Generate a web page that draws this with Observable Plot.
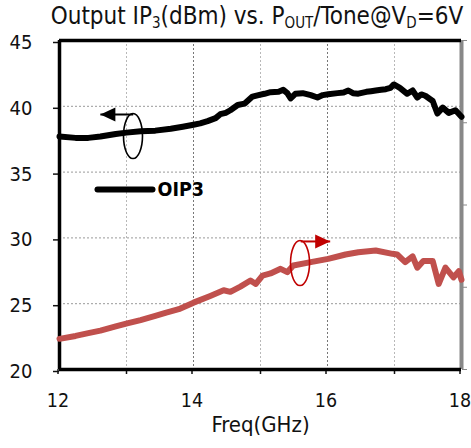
<!DOCTYPE html>
<html>
<head>
<meta charset="utf-8">
<script src="https://cdn.jsdelivr.net/npm/d3@7"></script>
<script src="https://cdn.jsdelivr.net/npm/@observablehq/plot@0.6"></script>
<style>
  html, body { margin: 0; padding: 0; background: #fff; overflow: hidden; }
  #wrap { position: relative; width: 471px; height: 448px; }
  #title { position: absolute; left: 0; top: 0; width: 514px; text-align: center;
    font-family: "DejaVu Sans", sans-serif; font-stretch: condensed; font-size: 24px;
    line-height: 32px; color: #111; white-space: nowrap; }
  #title sub { font-size: 15px; vertical-align: -4px; line-height: 0; }
</style>
</head>
<body>
<div id="wrap">
  <div id="title">Output IP<sub>3</sub>(dBm) vs. P<sub>OUT</sub>/Tone@V<sub>D</sub>=6V</div>
</div>
<script>
// OIP3 (dBm), left axis
const oip3Freq = [12.00,12.24,12.43,12.61,12.84,13.00,13.21,13.43,13.66,13.84,14.00,14.10,14.21,14.33,14.40,14.48,14.55,14.66,14.76,14.88,14.97,15.06,15.15,15.27,15.34,15.40,15.45,15.52,15.63,15.75,15.85,15.93,16.01,16.15,16.24,16.31,16.38,16.46,16.58,16.65,16.72,16.80,16.87,16.94,16.99,17.08,17.19,17.27,17.34,17.40,17.46,17.57,17.64,17.72,17.81,17.91,18.00];
const oip3 = [37.7,37.6,37.6,37.7,37.9,38.0,38.1,38.15,38.3,38.45,38.6,38.7,38.87,39.1,39.4,39.5,39.7,40.1,40.2,40.74,40.85,40.95,41.07,41.1,41.25,41.0,40.6,40.95,41.0,40.85,40.67,40.85,40.92,41.0,41.05,41.2,41.0,40.96,41.1,41.15,41.2,41.25,41.3,41.4,41.66,41.4,40.95,41.2,40.67,40.9,40.8,40.4,39.45,39.9,39.5,39.7,39.2];
// Pout/tone (right axis, read on the left-axis grid)
const poutFreq = [12.00,12.24,12.43,12.61,12.84,13.01,13.21,13.43,13.58,13.78,14.00,14.25,14.45,14.55,14.70,14.85,14.93,15.03,15.15,15.30,15.40,15.49,15.75,16.01,16.27,16.46,16.72,16.97,17.04,17.16,17.27,17.34,17.43,17.57,17.66,17.76,17.88,17.96,18.00];
const pout = [22.33,22.55,22.76,22.95,23.27,23.5,23.75,24.07,24.3,24.58,25.08,25.59,26.02,25.9,26.3,26.76,26.5,27.14,27.3,27.65,27.4,27.9,28.16,28.41,28.74,28.91,29.04,28.79,28.74,28.16,28.6,27.74,28.24,28.24,26.5,27.74,27.0,27.47,26.82];

const xMajorTicks = [12, 14, 16, 18];
const xMinorTicks = [13, 15, 17];
const yTicks = [20, 25, 30, 35, 40, 45];
const rightTicks = [20, 26.25, 32.5, 38.75, 45];

// annotations (data coordinates)
const leftMarker = { cx: 13.097, cy: 37.74, ax1: 13.10, ax2: 12.61, ay: 39.38 };
const rightMarker = { cx: 15.59, cy: 28.09, ax1: 15.60, ax2: 16.04, ay: 29.73 };
const legendEntry = { label: "OIP3", x1: 12.567, x2: 13.388, y: 33.68, tx: 13.463 };

const oipData = oip3Freq.map((f, i) => ({ f, v: oip3[i] }));
const poutData = poutFreq.map((f, i) => ({ f, v: pout[i] }));

const font = '"DejaVu Sans", sans-serif';

const ellipse = { draw(ctx) {
  const rx = 9.5, ry = 22.5, k = 0.5523;
  ctx.moveTo(rx, 0);
  ctx.bezierCurveTo(rx, ry * k, rx * k, ry, 0, ry);
  ctx.bezierCurveTo(-rx * k, ry, -rx, ry * k, -rx, 0);
  ctx.bezierCurveTo(-rx, -ry * k, -rx * k, -ry, 0, -ry);
  ctx.bezierCurveTo(rx * k, -ry, rx, -ry * k, rx, 0);
  ctx.closePath();
}};
const headLeft = { draw(ctx) { ctx.moveTo(0, 0); ctx.lineTo(15, -7); ctx.lineTo(15, 7); ctx.closePath(); } };
const headRight = { draw(ctx) { ctx.moveTo(0, 0); ctx.lineTo(-15, -7); ctx.lineTo(-15, 7); ctx.closePath(); } };

const darkRed = "#c00000";
const fmt = d => String(d);

const chart = Plot.plot({
  width: 471,
  height: 448,
  marginLeft: 59,
  marginRight: 10,
  marginTop: 40,
  marginBottom: 79,
  style: { fontFamily: font, fontStretch: "condensed", background: "transparent", color: "#111", overflow: "visible" },
  x: { domain: [12, 18] },
  y: { domain: [20, 45] },
  marks: [
    Plot.gridX({ ticks: xMinorTicks, stroke: "#b8b8b8", strokeOpacity: 1, strokeDasharray: "2,2" }),
    Plot.gridX({ ticks: [14, 16], stroke: "#777", strokeOpacity: 1, strokeDasharray: "2,2" }),
    Plot.gridY({ ticks: [25, 30, 35, 40], stroke: "#999", strokeOpacity: 1, strokeDasharray: "2,2" }),
    Plot.axisX({ ticks: xMajorTicks, tickFormat: fmt, tickSize: 5, tickPadding: 19, fontSize: 19.5, dx: -1.5, label: null, strokeWidth: 1.5 }),
    Plot.axisX({ ticks: xMinorTicks, tickSize: 5, tickFormat: () => "", label: null, strokeWidth: 1.5 }),
    Plot.axisY({ ticks: yTicks, tickFormat: fmt, tickSize: 6, tickPadding: 21, fontSize: 20, label: null, dy: 2, strokeWidth: 1.5 }),
    Plot.axisY({ anchor: "right", ticks: rightTicks, tickSize: 5, tickFormat: () => "", label: null, stroke: "#888" }),
    Plot.ruleX([18], { stroke: "#888", strokeWidth: 4 }),
    Plot.ruleY([45], { stroke: "#000", strokeWidth: 3.5 }),
    Plot.ruleY([20], { stroke: "#000", strokeWidth: 3.5 }),
    Plot.ruleX([12], { stroke: "#000", strokeWidth: 3.5 }),
    Plot.line(poutData, { x: "f", y: "v", stroke: "#c0504d", strokeWidth: 6, strokeLinejoin: "round", strokeLinecap: "round" }),
    Plot.line(oipData, { x: "f", y: "v", stroke: "#000", strokeWidth: 6, strokeLinejoin: "round", strokeLinecap: "round" }),
    // left marker
    Plot.link([leftMarker], { x1: "ax1", x2: "ax2", y1: "ay", y2: "ay", stroke: "#000", strokeWidth: 2 }),
    Plot.dot([leftMarker], { x: "ax2", y: "ay", symbol: headLeft, r: 1, fill: "#000", stroke: "none" }),
    Plot.dot([leftMarker], { x: "cx", y: "cy", symbol: ellipse, r: 1, fill: "none", stroke: "#000", strokeWidth: 1.6 }),
    // right marker
    Plot.link([rightMarker], { x1: "ax1", x2: "ax2", y1: "ay", y2: "ay", stroke: darkRed, strokeWidth: 2 }),
    Plot.dot([rightMarker], { x: "ax2", y: "ay", symbol: headRight, r: 1, fill: darkRed, stroke: "none" }),
    Plot.dot([rightMarker], { x: "cx", y: "cy", symbol: ellipse, r: 1, fill: "none", stroke: darkRed, strokeWidth: 1.6 }),
    // legend
    Plot.link([legendEntry], { x1: "x1", x2: "x2", y1: "y", y2: "y", stroke: "#000", strokeWidth: 6, strokeLinecap: "round" }),
    Plot.text([legendEntry], { x: "tx", y: "y", text: "label", textAnchor: "start", fontSize: 19.5, fontWeight: "bold", fill: "#000" }),
    // x-axis title
    Plot.text(["Freq(GHz)"], { frameAnchor: "bottom", dy: 62, fontSize: 22, fill: "#111" })
  ]
});
document.getElementById("wrap").prepend(chart);
</script>
</body>
</html>
